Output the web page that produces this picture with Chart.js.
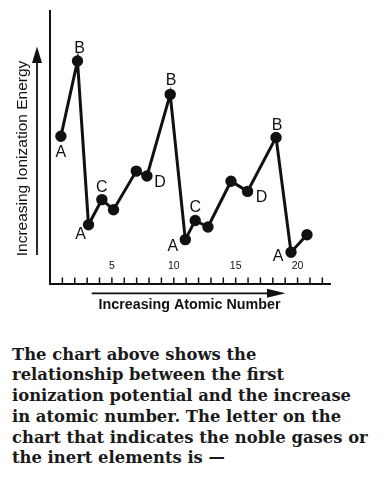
<!DOCTYPE html>
<html>
<head>
<meta charset="utf-8">
<script src="https://cdn.jsdelivr.net/npm/chart.js@4.4.0/dist/chart.umd.min.js"></script>
<style>
    body { margin: 0; background: #fff; }
    #wrap { position: relative; width: 387px; height: 480px; overflow: hidden; }
    #box { position: absolute; left: 0; top: 0; width: 387px; height: 320px; }
    #question {
        position: absolute; left: 12px; top: 344.7px; width: 375px;
        font-family: "DejaVu Serif", serif; font-weight: bold;
        font-size: 16.4px; line-height: 20.7px; color: #1a1a1a;
        white-space: nowrap;
    }
</style>
</head>
<body>
<div id="wrap">
    <div id="box"><canvas id="myChart" width="387" height="320"></canvas></div>
    <div id="question">
        The chart above shows the<br>
        relationship between the first<br>
        ionization potential and the increase<br>
        in atomic number. The letter on the<br>
        chart that indicates the noble gases or<br>
        the inert elements is &mdash;
    </div>
</div>
<script>
// DATA
const atomicNumber = [0.88, 2.22, 3.11, 4.19, 5.13, 6.97, 7.83, 9.71, 10.93, 11.73, 12.76, 14.62, 15.96, 18.26, 19.47, 20.76];
const energy       = [53.9, 81.4, 21.6, 30.8, 27.1, 41.2, 39.4, 69.2, 16.2, 23.2, 20.8, 37.5, 33.8, 53.5, 11.6, 18.0];
const pointLetters = ['A', 'B', 'A', 'C', '', '', 'D', 'B', 'A', 'C', '', '', 'D', 'B', 'A', ''];
const tickNumbers  = [1, 2, 3, 4, 5, 6, 7, 8, 9, 10, 11, 12, 13, 14, 15, 16, 17, 18, 19, 20, 21, 22];
const tickLabels   = [5, 10, 15, 20];
const yTitle = 'Increasing Ionization Energy';
const xTitle = 'Increasing Atomic Number';

// letter offsets from their point (pixels)
const letterOffsets = [[0, 16], [2, -12], [-8, 10], [0, -12], [0, 0], [0, 0], [13, 7], [1, -13.5], [-12.5, 7], [0, -13], [0, 0], [0, 0], [14, 6], [1, -12], [-13, 4], [0, 0]];

// DRAW AXES, TICKS, LETTERS AND TITLES
const sketchPlugin = {
    id: 'sketch',
    afterDatasetsDraw(chart) {
        const ctx = chart.ctx;
        const area = chart.chartArea;
        const xs = chart.scales.x;
        const ys = chart.scales.y;
        ctx.save();
        ctx.strokeStyle = '#111';
        ctx.fillStyle = '#111';

        // L shaped axes
        ctx.lineWidth = 2;
        ctx.beginPath();
        ctx.moveTo(area.left, area.top);
        ctx.lineTo(area.left, area.bottom);
        ctx.lineTo(area.right, area.bottom);
        ctx.stroke();

        // inward ticks
        ctx.lineWidth = 1.5;
        tickNumbers.forEach(function(n) {
            const px = xs.getPixelForValue(n);
            ctx.beginPath();
            ctx.moveTo(px, area.bottom);
            ctx.lineTo(px, area.bottom - 6.5);
            ctx.stroke();
        });
        ctx.font = '10.5px "Liberation Sans", Arial, sans-serif';
        ctx.textAlign = 'center';
        ctx.textBaseline = 'middle';
        tickLabels.forEach(function(n) {
            ctx.fillText(String(n), xs.getPixelForValue(n), area.bottom - 17.5);
        });

        // letters
        ctx.font = '16px "Liberation Sans", Arial, sans-serif';
        pointLetters.forEach(function(letter, i) {
            if (!letter) return;
            const px = xs.getPixelForValue(atomicNumber[i]) + letterOffsets[i][0];
            const py = ys.getPixelForValue(energy[i]) + letterOffsets[i][1];
            ctx.fillText(letter, px, py);
        });

        // y arrow
        ctx.lineWidth = 1.8;
        ctx.beginPath();
        ctx.moveTo(37, 255);
        ctx.lineTo(37, 60);
        ctx.stroke();
        ctx.beginPath();
        ctx.moveTo(37, 46.5);
        ctx.lineTo(32, 63);
        ctx.lineTo(42, 63);
        ctx.closePath();
        ctx.fill();

        // y title
        ctx.save();
        ctx.translate(26.5, 158.5);
        ctx.rotate(-Math.PI / 2);
        ctx.font = '15.5px "Liberation Sans", Arial, sans-serif';
        ctx.textBaseline = 'alphabetic';
        ctx.fillText(yTitle, 0, 0);
        ctx.restore();

        // x arrow
        ctx.lineWidth = 1.8;
        ctx.beginPath();
        ctx.moveTo(91.7, 293.3);
        ctx.lineTo(272, 293.3);
        ctx.stroke();
        ctx.beginPath();
        ctx.moveTo(285.5, 293.3);
        ctx.lineTo(267, 288.8);
        ctx.lineTo(267, 297.8);
        ctx.closePath();
        ctx.fill();

        // x title
        ctx.font = 'bold 14.3px "Liberation Sans", Arial, sans-serif';
        ctx.textBaseline = 'alphabetic';
        ctx.fillText(xTitle, 189.5, 309.3);

        ctx.restore();
    }
};

// CHART
const ctx = document.getElementById('myChart').getContext('2d');
new Chart(ctx, {
    type: 'scatter',
    data: {
        datasets: [{
            data: atomicNumber.map(function(n, i) { return { x: n, y: energy[i] }; }),
            showLine: true,
            borderColor: '#111',
            borderWidth: 3,
            backgroundColor: '#111',
            pointRadius: 4.2,
            pointHoverRadius: 4.2,
            tension: 0,
            clip: false
        }]
    },
    options: {
        responsive: false,
        animation: false,
        events: [],
        layout: { padding: { left: 50, top: 10, right: 56, bottom: 36 } },
        plugins: { legend: { display: false }, tooltip: { enabled: false } },
        scales: {
            x: { type: 'linear', min: 0, max: 22.7, display: false },
            y: { min: 0, max: 100, display: false }
        }
    },
    plugins: [sketchPlugin]
});
</script>
</body>
</html>
